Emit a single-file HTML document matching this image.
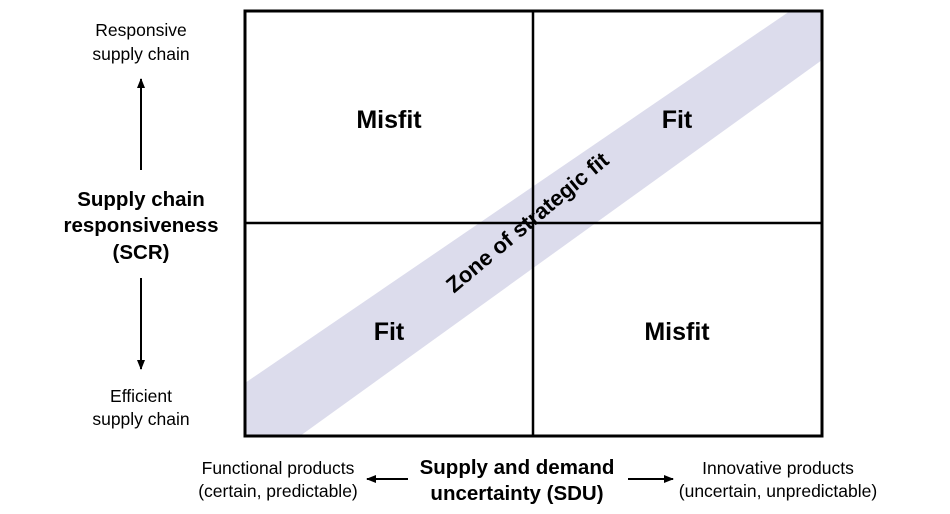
<!DOCTYPE html>
<html><head><meta charset="utf-8"><style>
body{margin:0;background:#fff;}
svg{display:block;font-family:"Liberation Sans",Arial,sans-serif;}
</style></head><body>
<svg width="950" height="514" viewBox="0 0 950 514" xmlns="http://www.w3.org/2000/svg">
<defs><marker id="ah" markerWidth="10" markerHeight="10" refX="9" refY="4.5" orient="auto" markerUnits="userSpaceOnUse"><path d="M0,0.5 L10,4.5 L0,8.5 z" fill="#000"/></marker></defs>
<polygon points="245,383 790,11 822,11 822,60 300,436 245,436" fill="#dcdcec"/>
<rect x="245" y="11" width="577" height="425" fill="none" stroke="#000" stroke-width="3"/>
<line x1="533" y1="11" x2="533" y2="436" stroke="#000" stroke-width="2.5"/>
<line x1="245" y1="223" x2="822" y2="223" stroke="#000" stroke-width="2.5"/>
<g font-weight="bold" font-size="25" text-anchor="middle">
<text x="389" y="128">Misfit</text>
<text x="677" y="128">Fit</text>
<text x="389" y="340">Fit</text>
<text x="677" y="340">Misfit</text>
</g>
<text x="527" y="230" font-weight="bold" font-size="22" text-anchor="middle" transform="rotate(-40 527 222)">Zone of strategic fit</text>
<g font-size="17.5" text-anchor="middle">
<text x="141" y="36">Responsive</text>
<text x="141" y="60">supply chain</text>
<text x="141" y="402">Efficient</text>
<text x="141" y="425">supply chain</text>
<text x="278" y="474">Functional products</text>
<text x="278" y="497">(certain, predictable)</text>
<text x="778" y="474">Innovative products</text>
<text x="778" y="497">(uncertain, unpredictable)</text>
</g>
<g font-size="20.5" font-weight="bold" text-anchor="middle">
<text x="141" y="206">Supply chain</text>
<text x="141" y="232">responsiveness</text>
<text x="141" y="259">(SCR)</text>
<text x="517" y="474">Supply and demand</text>
<text x="517" y="500">uncertainty (SDU)</text>
</g>
<g stroke="#000" stroke-width="2">
<line x1="141" y1="170" x2="141" y2="79" marker-end="url(#ah)"/>
<line x1="141" y1="278" x2="141" y2="369" marker-end="url(#ah)"/>
<line x1="408" y1="479" x2="367" y2="479" marker-end="url(#ah)"/>
<line x1="628" y1="479" x2="673" y2="479" marker-end="url(#ah)"/>
</g>
</svg>
</body></html>
